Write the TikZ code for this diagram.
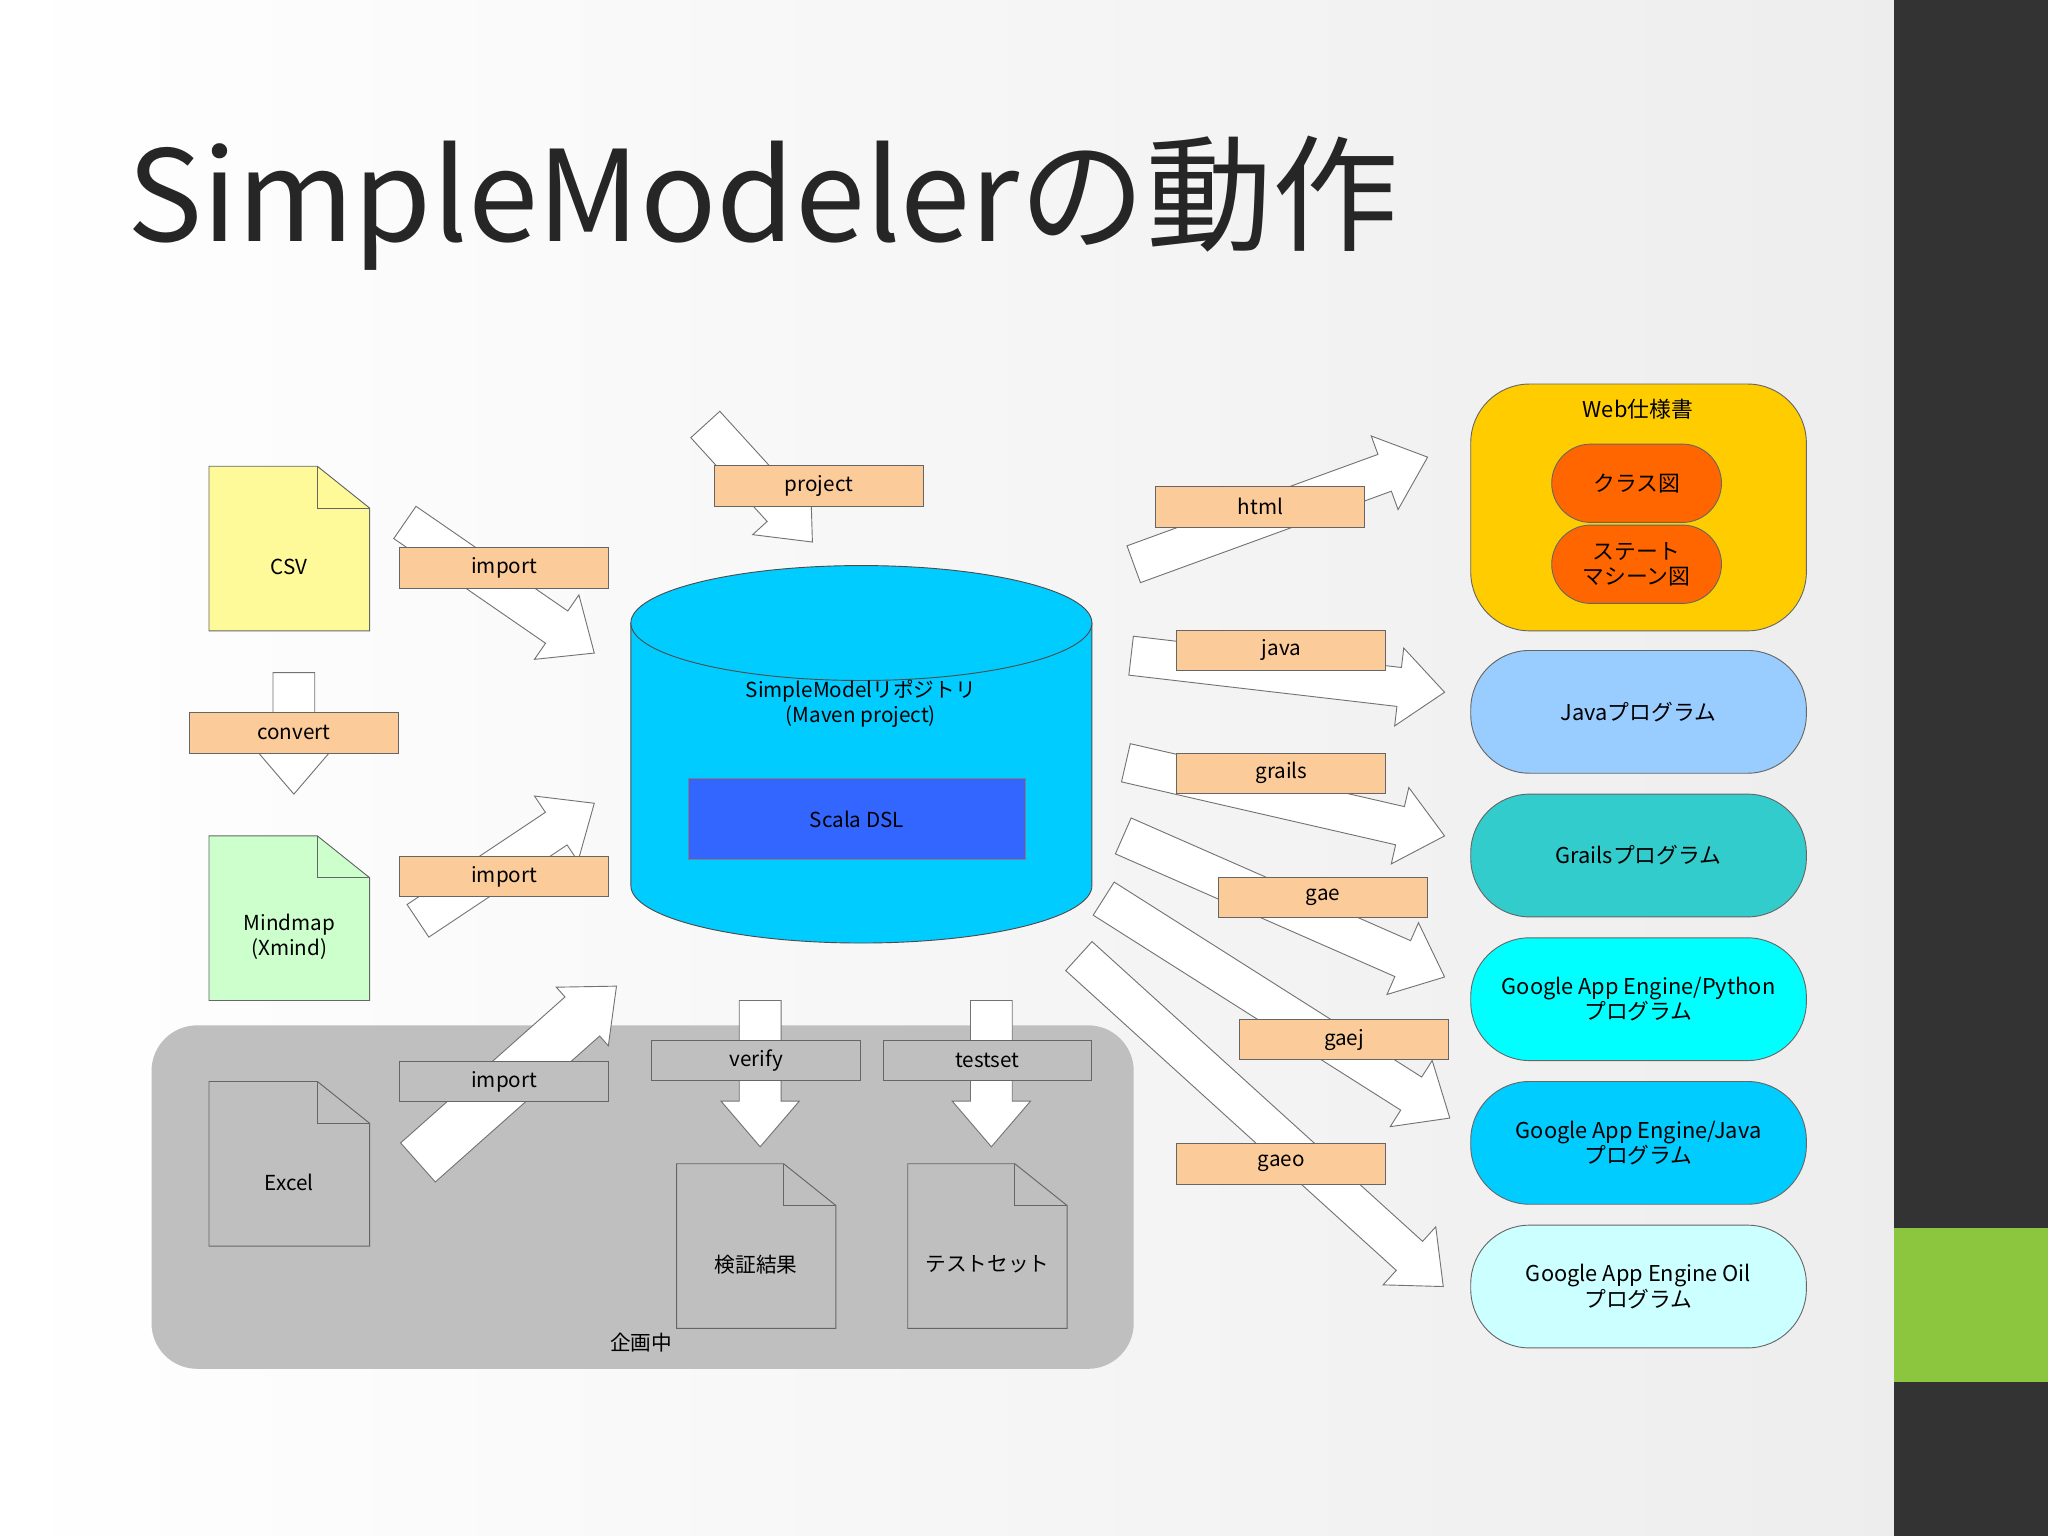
\documentclass[tikz,border=0pt]{standalone}
\usepackage{fontspec}
\setmainfont{Noto Sans CJK JP}
\usetikzlibrary{calc}
\definecolor{peach}{HTML}{FBCB9A}
\definecolor{panel}{HTML}{BFBFBF}
\definecolor{cyl}{HTML}{00CCFF}
\tikzset{
 lab/.style={draw=black!60,line width=0.4pt,fill=peach,minimum width=3.2cm,minimum height=0.62cm,inner sep=0,font=\fontsize{9}{10}\selectfont},
 glab/.style={lab,fill=panel},
 barrow/.style={draw=black!55,fill=white,line width=0.4pt},
 rbox/.style={draw=black!60,rounded corners=0.9cm,minimum width=5.14cm,minimum height=1.88cm,align=center,font=\fontsize{9.5}{11}\selectfont},
 doc/.style={draw=black!60,line width=0.4pt},
}
% \barr[shaft half width]{a}{b}  head half width 0.6cm, head length 0.7cm
\newcommand\barr[3][0.3cm]{\coordinate (n) at ($(#3)!0.7cm!(#2)$);
 \draw[barrow] ($(#2)!#1!90:(#3)$) -- ($(n)!#1!-90:(#2)$) -- ($(n)!0.6cm!-90:(#2)$) -- (#3) -- ($(n)!0.6cm!90:(#2)$) -- ($(n)!#1!90:(#2)$) -- ($(#2)!#1!-90:(#3)$) -- cycle;}
\newcommand\docu[7]{\draw[doc,fill=#6] (#2,#3) -- ({#4-40},#3) -- (#4,{#3+32}) -- (#4,#5) -- (#2,#5) -- cycle;
 \draw[doc] ({#4-40},#3) -- ({#4-40},{#3+32}) -- (#4,{#3+32});
 \node[align=center,font=\fontsize{9}{11}\selectfont] (#1) at ({(#2+#4)/2},{(#3+#5)/2+14}) {#7};}
\begin{document}
\begin{tikzpicture}[x=0.02cm,y=-0.02cm]
\useasboundingbox (0,0) rectangle (1568,1176);
\shade[left color=white,right color=black!7] (0,0) rectangle (1450,1176);
\fill[black!80] (1450,0) rectangle (1568,1176);
\fill[fill={rgb,255:red,140;green,198;blue,63}] (1450,940) rectangle (1568,1058);
\node[anchor=base west,inner sep=0,font=\fontsize{55}{62}\selectfont,text=black!85] (title) at (97,185) {SimpleModelerの動作};
% panel
\fill[panel,rounded corners=0.7cm] (116,785) rectangle (868,1048);
\node[font=\fontsize{9}{10}\selectfont] (kikaku) at (491,1028) {企画中};
% docs
\docu{csv}{160}{357}{283}{483}{yellow!40}{CSV}
\docu{mind}{160}{640}{283}{766}{green!20}{Mindmap\\(Xmind)}
\docu{excel}{160}{828}{283}{954}{panel}{Excel}
\docu{kensho}{518}{891}{640}{1017}{panel}{検証結果}
\docu{test}{695}{891}{817}{1017}{panel}{テストセット}
% cylinder
\draw[black!70,fill=cyl] (483,477) -- (483,678) arc[start angle=180,end angle=0,x radius=176.5,y radius=44] -- (836,477) -- cycle;
\draw[black!70,fill=cyl] (659.5,477) ellipse[x radius=176.5,y radius=44];
\node[align=center,font=\fontsize{9}{11}\selectfont] (repo) at (659,539) {SimpleModelリポジトリ\\(Maven project)};
\node[draw=black!50,fill={rgb,255:red,51;green,102;blue,255},minimum width=5.16cm,minimum height=1.24cm,font=\fontsize{9}{10}\selectfont] (dsl) at (656,627) {Scala DSL};
% arrows
\coordinate (a1) at (310,400); \coordinate (b1) at (455,500);
\coordinate (a2) at (225,515); \coordinate (b2) at (225,608);
\coordinate (a3) at (320,705); \coordinate (b3) at (455,615);
\coordinate (a4) at (320,890); \coordinate (b4) at (472,755);
\coordinate (a5) at (540,325); \coordinate (b5) at (622,415);
\coordinate (a6) at (582,766); \coordinate (b6) at (582,878);
\coordinate (a7) at (759,766); \coordinate (b7) at (759,878);
\coordinate (a8) at (868,432); \coordinate (b8) at (1093,350);
\coordinate (a9) at (866,502); \coordinate (b9) at (1106,530);
\coordinate (a10) at (862,584); \coordinate (b10) at (1106,640);
\coordinate (a11) at (860,640); \coordinate (b11) at (1106,748);
\coordinate (a12) at (845,688); \coordinate (b12) at (1110,856);
\coordinate (a13) at (826,732); \coordinate (b13) at (1105,985);
\barr{a1}{b1}\barr[0.32cm]{a2}{b2}\barr{a3}{b3}\barr[0.4cm]{a4}{b4}
\barr{a5}{b5}\barr[0.32cm]{a6}{b6}\barr[0.32cm]{a7}{b7}
\barr{a8}{b8}\barr{a9}{b9}\barr{a10}{b10}\barr{a11}{b11}\barr{a12}{b12}\barr{a13}{b13}
% labels
\node[lab] (l1) at (627,372) {project};
\node[lab] (l2) at (386,435) {import};
\node[lab] (l3) at (225,561) {convert};
\node[lab] (l4) at (386,671) {import};
\node[glab] (l5) at (386,828) {import};
\node[glab] (l6) at (579,812) {verify};
\node[glab] (l7) at (756,812) {testset};
\node[lab] (l8) at (965,388) {html};
\node[lab] (l9) at (981,498) {java};
\node[lab] (l10) at (981,592) {grails};
\node[lab] (l11) at (1013,687) {gae};
\node[lab] (l12) at (1029,796) {gaej};
\node[lab] (l13) at (981,891) {gaeo};
% right boxes
\node[rbox,fill={rgb,255:red,255;green,204;blue,0},minimum height=3.78cm] (web) at (1254.5,388.5) {};
\node[font=\fontsize{9.5}{11}\selectfont] (webt) at (1254,313) {Web仕様書};
\node[draw=black!60,fill={rgb,255:red,255;green,102;blue,0},rounded corners=0.6cm,minimum width=2.6cm,minimum height=1.2cm,font=\fontsize{9.5}{11}\selectfont] (cls) at (1253,370) {クラス図};
\node[draw=black!60,fill={rgb,255:red,255;green,102;blue,0},rounded corners=0.6cm,minimum width=2.6cm,minimum height=1.2cm,align=center,font=\fontsize{9.5}{11}\selectfont] (st) at (1253,432) {ステート\\マシーン図};
\node[rbox,fill={rgb,255:red,153;green,204;blue,255}] (jp) at (1254.5,545) {Javaプログラム};
\node[rbox,fill={rgb,255:red,51;green,204;blue,204}] (gp) at (1254.5,655) {Grailsプログラム};
\node[rbox,fill={rgb,255:red,0;green,255;blue,255}] (py) at (1254.5,765) {Google App Engine/Python\\プログラム};
\node[rbox,fill={rgb,255:red,0;green,204;blue,255}] (gj) at (1254.5,875) {Google App Engine/Java\\プログラム};
\node[rbox,fill={rgb,255:red,204;green,255;blue,255}] (oil) at (1254.5,985) {Google App Engine Oil\\プログラム};
\end{tikzpicture}
\end{document}
